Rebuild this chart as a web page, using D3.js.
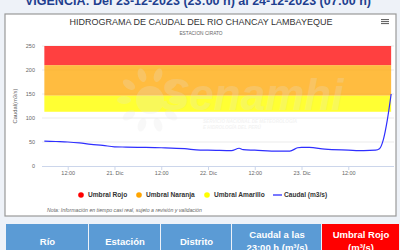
<!DOCTYPE html>
<html>
<head>
<meta charset="utf-8">
<script src="https://cdn.jsdelivr.net/npm/d3@7"></script>
<style>
  body { margin: 0; background: #eef2f8; }
  svg { display: block; font-family: "Liberation Sans", Arial, sans-serif; }
</style>
</head>
<body>
<div id="chart"></div>
<script>
// caudal data, hora -> m3/s
var times = [
  "2023-12-20T06:00", "2023-12-20T09:00", "2023-12-20T12:00", "2023-12-20T15:00", "2023-12-20T18:00",
  "2023-12-20T21:00", "2023-12-21T00:00", "2023-12-21T03:00", "2023-12-21T06:00", "2023-12-21T12:00",
  "2023-12-21T18:00", "2023-12-21T22:00", "2023-12-22T00:00", "2023-12-22T06:00", "2023-12-22T08:00",
  "2023-12-22T09:00", "2023-12-22T12:00", "2023-12-22T18:00", "2023-12-22T21:00", "2023-12-22T23:00",
  "2023-12-23T00:00", "2023-12-23T02:00", "2023-12-23T06:00", "2023-12-23T12:00", "2023-12-23T16:00",
  "2023-12-23T19:00", "2023-12-23T20:00", "2023-12-23T21:00", "2023-12-23T22:00", "2023-12-23T23:00"
];
var caudal = [
  52, 51, 50, 48, 45,
  43, 40, 39.5, 39, 38,
  36, 33, 33, 32, 37,
  34, 33, 31, 31, 38,
  39, 39, 35, 33, 32,
  33, 36, 55, 95, 150
];

// umbrales (m3/s)
var umbralNames = ["Umbral Rojo", "Umbral Naranja", "Umbral Amarillo"];
var umbralLow = [210, 146.5, 113];
var umbralHigh = [250, 210, 146.5];
var umbralFill = ["rgba(255,0,0,0.75)", "rgba(255,165,0,0.75)", "rgba(255,255,0,0.8)"];
var umbralDot = ["#ff0000", "#ffa500", "#ffff00"];

var yTicks = [0, 50, 100, 150, 200, 250];
var xTickDates = ["2023-12-20T12:00", "2023-12-21T00:00", "2023-12-21T12:00", "2023-12-22T00:00",
  "2023-12-22T12:00", "2023-12-23T00:00", "2023-12-23T12:00"];

var tabla = [["Río"], ["Estación"], ["Distrito"], ["Caudal a las", "23:00 h (m³/s)"], ["Umbral Rojo", "(m³/s)"]];
var tablaColor = ["#5b9bd5", "#5b9bd5", "#5b9bd5", "#5b9bd5", "#ff0000"];
var tablaX = [6, 89, 161, 232, 322, 400];

var parse = d3.timeParse("%Y-%m-%dT%H:%M");
var data = times.map((t, i) => ({ t: parse(t), v: caudal[i] }));

var W = 400, H = 250;
var svg = d3.select("#chart").append("svg").attr("width", W).attr("height", H);

// encabezado (cortado arriba)
svg.append("text").attr("x", 198).attr("y", 5).attr("text-anchor", "middle")
  .attr("font-size", 12.5).attr("font-weight", "bold").attr("fill", "#1f3f8f")
  .text("VIGENCIA: Del 23-12-2023 (23:00 h) al 24-12-2023 (07:00 h)");

// caja del grafico
svg.append("rect").attr("x", 5).attr("y", 14).attr("width", 391).attr("height", 202)
  .attr("fill", "#fff").attr("stroke", "#999").attr("stroke-width", 1.2);

svg.append("text").attr("x", 201).attr("y", 25).attr("text-anchor", "middle")
  .attr("font-size", 9).attr("fill", "#333")
  .text("HIDROGRAMA DE CAUDAL DEL RIO CHANCAY LAMBAYEQUE");
svg.append("text").attr("x", 201).attr("y", 35).attr("text-anchor", "middle")
  .attr("font-size", 4.8).attr("fill", "#666").text("ESTACION CIRATO");

// menu icon
[0, 2, 4].forEach(d => {
  svg.append("rect").attr("x", 381).attr("y", 19 + d).attr("width", 8).attr("height", 1.1).attr("fill", "#666");
});

var x = d3.scaleTime()
  .domain([parse("2023-12-20T05:24"), parse("2023-12-23T23:44")])
  .range([42, 394]);
var y = d3.scaleLinear().domain([0, 250]).range([166, 46]);

// grid
svg.append("g").selectAll("line").data(yTicks.slice(1)).join("line")
  .attr("x1", 42).attr("x2", 394).attr("y1", d => y(d)).attr("y2", d => y(d))
  .attr("stroke", "#e6e6e6").attr("stroke-width", 0.8);

// bandas de umbral
var t0 = data[0].t, t1 = data[data.length - 1].t;
svg.append("g").selectAll("rect").data(umbralNames).join("rect")
  .attr("x", x(t0)).attr("width", x(t1) - x(t0))
  .attr("y", (d, i) => y(umbralHigh[i]))
  .attr("height", (d, i) => y(umbralLow[i]) - y(umbralHigh[i]))
  .attr("fill", (d, i) => umbralFill[i]);

// marca de agua
var wm = svg.append("g").attr("opacity", 0.22);
wm.append("circle").attr("cx", 150).attr("cy", 100).attr("r", 14).attr("fill", "#e4e4e4");
d3.range(10).forEach(i => {
  var a = i * Math.PI / 5;
  wm.append("ellipse").attr("cx", 150 + Math.cos(a) * 26).attr("cy", 100 + Math.sin(a) * 26)
    .attr("rx", 7).attr("ry", 4).attr("transform", "rotate(" + (a * 180 / Math.PI) + "," + (150 + Math.cos(a) * 26) + "," + (100 + Math.sin(a) * 26) + ")")
    .attr("fill", "#e4e4e4");
});
wm.append("text").attr("x", 160).attr("y", 110).attr("font-size", 44).attr("font-weight", "bold")
  .attr("font-style", "italic").attr("fill", "#e0e0e0").text("Senamhi");
wm.append("text").attr("x", 203).attr("y", 123).attr("font-size", 4.6).attr("font-style", "italic")
  .attr("font-weight", "bold").attr("fill", "#c8c8c8").text("SERVICIO NACIONAL DE METEOROLOGÍA");
wm.append("text").attr("x", 203).attr("y", 129).attr("font-size", 4.6).attr("font-style", "italic")
  .attr("font-weight", "bold").attr("fill", "#c8c8c8").text("E HIDROLOGÍA DEL PERÚ");

// linea de caudal
svg.append("path").datum(data)
  .attr("d", d3.line().x(d => x(d.t)).y(d => y(d.v)).curve(d3.curveMonotoneX))
  .attr("fill", "none").attr("stroke", "#2f2fff").attr("stroke-width", 1.2);

// eje y
svg.append("g").selectAll("text").data(yTicks).join("text")
  .attr("x", 35).attr("y", d => y(d) + 2).attr("text-anchor", "end")
  .attr("font-size", 5.5).attr("fill", "#666").text(d => d);
svg.append("text").attr("transform", "translate(17,106) rotate(-90)").attr("text-anchor", "middle")
  .attr("font-size", 5.8).attr("fill", "#666").text("Caudal(m3/s)");

// eje x
var xAxis = d3.axisBottom(x).tickValues(xTickDates.map(parse)).tickSize(4)
  .tickFormat(d => d.getHours() === 0 ? d3.timeFormat("%d")(d) + ". Dic" : d3.timeFormat("%H:%M")(d));
var gx = svg.append("g").attr("transform", "translate(0,166)").call(xAxis);
gx.select(".domain").attr("stroke", "#ccd6eb").attr("d", "M42,0.5H394");
gx.selectAll(".tick line").attr("stroke", "#ccd6eb");
gx.selectAll(".tick text").attr("font-size", 5.5).attr("fill", "#666").attr("dy", "0.3em")
  .attr("font-family", "Liberation Sans, Arial, sans-serif");

// leyenda
var legX = [81, 139, 207];
var leg = svg.append("g").attr("font-size", 6.6).attr("font-weight", "bold").attr("fill", "#333");
umbralNames.forEach((n, i) => {
  leg.append("circle").attr("cx", legX[i]).attr("cy", 195).attr("r", 2.8).attr("fill", umbralDot[i]);
  leg.append("text").attr("x", legX[i] + 7).attr("y", 197.3).text(n);
});
leg.append("line").attr("x1", 273).attr("x2", 282).attr("y1", 195).attr("y2", 195)
  .attr("stroke", "#2f2fff").attr("stroke-width", 1.3);
leg.append("text").attr("x", 284).attr("y", 197.3).text("Caudal (m3/s)");

svg.append("text").attr("x", 47).attr("y", 212).attr("font-size", 5.2).attr("font-style", "italic")
  .attr("fill", "#666").text("Nota: Información en tiempo casi real, sujeto a revisión y validación");

// tabla
var tb = svg.append("g");
tabla.forEach((lines, i) => {
  tb.append("rect").attr("x", tablaX[i]).attr("y", 224).attr("width", tablaX[i + 1] - tablaX[i] - 1)
    .attr("height", 30).attr("fill", tablaColor[i]);
  var cx = (tablaX[i] + tablaX[i + 1]) / 2;
  if (lines.length === 1) {
    tb.append("text").attr("x", cx).attr("y", 245).attr("text-anchor", "middle")
      .attr("font-size", 9.5).attr("font-weight", "bold").attr("fill", "#fff").text(lines[0]);
  } else {
    lines.forEach((l, k) => {
      tb.append("text").attr("x", cx).attr("y", 238 + k * 13).attr("text-anchor", "middle")
        .attr("font-size", 9.5).attr("font-weight", "bold").attr("fill", "#fff").text(l);
    });
  }
});
</script>
</body>
</html>
